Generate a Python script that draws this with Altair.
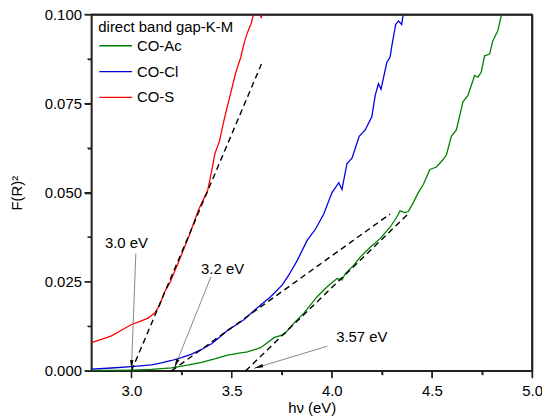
import math
import altair as alt
import pandas as pd

# ---------------- data ----------------
series_names = ["CO-Ac", "CO-Cl", "CO-S"]
series_colors = ["#008000", "#0000e0", "#ff0000"]

s_x = [2.80, 2.85, 2.90, 2.95, 3.00, 3.04, 3.083, 3.116, 3.141, 3.166, 3.191, 3.215,
       3.24, 3.265, 3.29, 3.315, 3.335, 3.356, 3.38, 3.40, 3.417, 3.439, 3.464, 3.48,
       3.497, 3.521, 3.546, 3.563, 3.579, 3.599, 3.613, 3.63, 3.648, 3.66]
s_y = [0.0079, 0.0088, 0.0098, 0.0114, 0.0130, 0.0138, 0.0148, 0.0162, 0.0185, 0.0222,
       0.0246, 0.0278, 0.0312, 0.0347, 0.0382, 0.0421, 0.0452, 0.0477, 0.0505, 0.0560,
       0.0610, 0.0644, 0.0708, 0.0745, 0.0783, 0.0838, 0.0880, 0.0921, 0.0949, 0.0977,
       0.1010, 0.1040, 0.0990, 0.1050]

cl_x = [2.80, 2.90, 3.00, 3.10, 3.15, 3.20, 3.25, 3.30, 3.35, 3.40, 3.44, 3.48, 3.52,
        3.563, 3.60, 3.645, 3.695, 3.753, 3.786, 3.828, 3.877, 3.919, 3.96, 3.985, 4.001,
        4.035, 4.051, 4.076, 4.101, 4.137, 4.167, 4.20, 4.217, 4.233, 4.246, 4.275, 4.291,
        4.30, 4.319, 4.333, 4.349, 4.357, 4.37]
cl_y = [0.0005, 0.0008, 0.0012, 0.0017, 0.0022, 0.0029, 0.0037, 0.0047, 0.0060, 0.0076,
        0.0094, 0.0114, 0.0128, 0.0144, 0.0163, 0.0185, 0.0208, 0.0241, 0.0269, 0.0310,
        0.0366, 0.0398, 0.0440, 0.0477, 0.0500, 0.0528, 0.0509, 0.0582, 0.0597, 0.0658,
        0.0676, 0.0713, 0.0773, 0.0806, 0.0790, 0.0866, 0.0880, 0.0912, 0.0972, 0.0982,
        0.0972, 0.1002, 0.1040]

ac_x = [2.80, 2.90, 3.00, 3.10, 3.20, 3.28, 3.35, 3.42, 3.48, 3.53, 3.579, 3.645, 3.712,
        3.762, 3.811, 3.861, 3.927, 3.977, 4.026, 4.051, 4.068, 4.109, 4.142, 4.192, 4.241,
        4.291, 4.324, 4.341, 4.365, 4.382, 4.407, 4.432, 4.457, 4.49, 4.523, 4.556, 4.573,
        4.597, 4.622, 4.655, 4.68, 4.713, 4.73, 4.746, 4.763, 4.788, 4.804, 4.829, 4.846, 4.86]
ac_y = [0.0001, 0.0001, 0.0002, 0.0004, 0.0008, 0.0016, 0.0024, 0.0034, 0.0044, 0.0049,
        0.0053, 0.0065, 0.0093, 0.0102, 0.0134, 0.0162, 0.0208, 0.0236, 0.0259, 0.0255,
        0.0273, 0.0296, 0.0319, 0.0347, 0.0371, 0.0403, 0.0431, 0.0449, 0.0444, 0.0447,
        0.0472, 0.0500, 0.0523, 0.0565, 0.0572, 0.0593, 0.0607, 0.0658, 0.0676, 0.0755,
        0.0773, 0.0829, 0.0824, 0.0838, 0.0884, 0.0889, 0.0926, 0.0954, 0.0996, 0.1040]

# tangent (extrapolation) lines: start (x, y) -> end (x, y)
tan_x1 = [3.00, 3.20, 3.57]
tan_y1 = [0.0, 0.0, 0.0]
tan_x2 = [3.649, 4.291, 4.39]
tan_y2 = [0.0861, 0.0440, 0.0445]

# annotations
ann_text = ["3.0 eV", "3.2 eV", "3.57 eV"]
ann_tx = [2.975, 3.455, 4.15]
ann_ty = [0.0359, 0.0287, 0.0096]
arr_x1 = [3.022, 3.397, 3.977]
arr_y1 = [0.0329, 0.0264, 0.0069]
arr_x2 = [3.000, 3.215, 3.613]
arr_y2 = [0.0005, 0.0009, 0.0007]

x_major_ticks = [3.0, 3.5, 4.0, 4.5, 5.0]
x_minor_ticks = [3.25, 3.75, 4.25, 4.75]
y_major_ticks = [0.0, 0.025, 0.05, 0.075, 0.1]
y_minor_ticks = [0.0125, 0.0375, 0.0625, 0.0875]

# ---------------- chart ----------------
W, H = 444, 359
XDOM = [2.8, 5.0]
YDOM = [0.0, 0.1]
FONT = "Liberation Sans"
AX = "#222"
MAJ, MIN = 7, 4

rows = []
for name, xs, ys in [("CO-Ac", ac_x, ac_y), ("CO-Cl", cl_x, cl_y), ("CO-S", s_x, s_y)]:
    for i, (a, b) in enumerate(zip(xs, ys)):
        rows.append({"series": name, "x": a, "y": b, "order": i})
curves = pd.DataFrame(rows)

trows = []
for i in range(3):
    trows.append({"g": i, "x": tan_x1[i], "y": tan_y1[i]})
    trows.append({"g": i, "x": tan_x2[i], "y": tan_y2[i]})
tangents = pd.DataFrame(trows)

arrows = pd.DataFrame({"x": arr_x1, "y": arr_y1, "x2": arr_x2, "y2": arr_y2})

# frame (top and right edges of the plot box), built from the axis domains
frame = pd.DataFrame({"x": [XDOM[0], XDOM[1]], "y": [YDOM[1], YDOM[0]],
                      "x2": [XDOM[1], XDOM[1]], "y2": [YDOM[1], YDOM[1]]})

# arrowheads: small narrow triangles, pre-rotated as custom symbol paths
HEAD_LEN = 9.0
heads = []
sx = W / (XDOM[1] - XDOM[0])
sy = H / (YDOM[1] - YDOM[0])
base_tri = [(0.0, -1.0), (0.38, 1.0), (-0.38, 1.0)]
for i in range(3):
    dx = (arr_x2[i] - arr_x1[i]) * sx
    dy = -(arr_y2[i] - arr_y1[i]) * sy  # screen coordinates, y down
    L = math.hypot(dx, dy)
    ux, uy = dx / L, dy / L
    th = math.atan2(dx, -dy)  # clockwise from "up"
    c, s = math.cos(th), math.sin(th)
    pts = [(px * c - py * s, px * s + py * c) for px, py in base_tri]
    path = "M{:.3f},{:.3f}L{:.3f},{:.3f}L{:.3f},{:.3f}Z".format(*[v for p in pts for v in p])
    back = HEAD_LEN / 2
    heads.append({"x": arr_x2[i] - ux * back / sx,
                  "y": arr_y2[i] + uy * back / sy,
                  "shape": path})
heads = pd.DataFrame(heads)

labels = pd.DataFrame({"x": ann_tx, "y": ann_ty, "t": ann_text})

xscale = alt.Scale(domain=XDOM, nice=False, zero=False)
yscale = alt.Scale(domain=YDOM, nice=False, zero=False)

x_axis = alt.Axis(values=x_major_ticks, format=".1f", orient="bottom", tickSize=MAJ,
                  grid=False, labelPadding=6, titlePadding=2, labelFlush=False)
y_axis = alt.Axis(values=y_major_ticks, format=".3f", orient="left", tickSize=MAJ,
                  grid=False, labelPadding=3, titlePadding=20, labelFlush=False)
x_minor = alt.Axis(values=x_minor_ticks, orient="bottom", tickSize=MIN, labels=False,
                   domain=False, grid=False, title=None)
y_minor = alt.Axis(values=y_minor_ticks, orient="left", tickSize=MIN, labels=False,
                   domain=False, grid=False, title=None)
x_top = alt.Axis(orient="top", ticks=False, labels=False, domain=True, grid=False, title=None)
y_right = alt.Axis(orient="right", ticks=False, labels=False, domain=True, grid=False, title=None)


def nox(field="x:Q"):
    return alt.X(field, scale=xscale, axis=None, title=None)


def noy(field="y:Q"):
    return alt.Y(field, scale=yscale, axis=None, title=None)


curve_layer = alt.Chart(curves).mark_line(clip=True, strokeWidth=1.3).encode(
    x=alt.X("x:Q", scale=xscale, axis=x_axis, title="hν (eV)"),
    y=alt.Y("y:Q", scale=yscale, axis=y_axis, title="F(R)²"),
    color=alt.Color("series:N",
                    scale=alt.Scale(domain=series_names, range=series_colors),
                    legend=alt.Legend(title="direct band gap-K-M", orient="none",
                                      legendX=7, legendY=6,
                                      symbolType="stroke", symbolSize=1089,
                                      symbolStrokeWidth=1.3,
                                      titleFontSize=15, titleFontWeight="normal",
                                      titleFont=FONT, labelFont=FONT,
                                      labelFontSize=15, titleColor="#000",
                                      labelColor="#000", rowPadding=0,
                                      titlePadding=-7, labelOffset=4)),
    order="order:Q",
)

tan_layer = alt.Chart(tangents).mark_line(
    clip=True, color="#000", strokeDash=[6, 4], strokeWidth=1.4
).encode(
    x=alt.X("x:Q", scale=xscale, axis=x_minor, title=None),
    y=alt.Y("y:Q", scale=yscale, axis=y_minor, title=None),
    detail="g:N",
)

arrow_layer = alt.Chart(arrows).mark_rule(color="#7a7a7a", strokeWidth=0.9).encode(
    x=alt.X("x:Q", scale=xscale, axis=x_top, title=None),
    y=alt.Y("y:Q", scale=yscale, axis=y_right, title=None),
    x2="x2:Q", y2="y2:Q",
)

frame_layer = alt.Chart(frame).mark_rule(color=AX, strokeWidth=1.5).encode(
    x=nox(), y=noy(), x2="x2:Q", y2="y2:Q",
)

head_layer = alt.Chart(heads).mark_point(
    filled=True, color="#000", size=HEAD_LEN * HEAD_LEN, opacity=1, strokeWidth=0
).encode(
    x=nox(), y=noy(),
    shape=alt.Shape("shape:N", scale=None, legend=None),
)

text_layer = alt.Chart(labels).mark_text(
    font=FONT, fontSize=15, color="#000"
).encode(x=nox(), y=noy(), text="t:N")

# tick marks drawn as rules as well (outward)
xt_major = alt.Chart(pd.DataFrame({"v": x_major_ticks})).mark_rule(color=AX, strokeWidth=1.3).encode(
    x=nox("v:Q"), y=alt.value(H), y2=alt.value(H + MAJ))
xt_minor = alt.Chart(pd.DataFrame({"v": x_minor_ticks})).mark_rule(color=AX, strokeWidth=1.3).encode(
    x=nox("v:Q"), y=alt.value(H), y2=alt.value(H + MIN))
yt_major = alt.Chart(pd.DataFrame({"v": y_major_ticks})).mark_rule(color=AX, strokeWidth=1.3).encode(
    y=noy("v:Q"), x=alt.value(0), x2=alt.value(-MAJ))
yt_minor = alt.Chart(pd.DataFrame({"v": y_minor_ticks})).mark_rule(color=AX, strokeWidth=1.3).encode(
    y=noy("v:Q"), x=alt.value(0), x2=alt.value(-MIN))

chart = alt.layer(
    curve_layer, tan_layer, arrow_layer, frame_layer, head_layer, text_layer,
    xt_major, xt_minor, yt_major, yt_minor,
).resolve_axis(
    x="independent", y="independent"
).properties(
    width=W, height=H,
    autosize=alt.AutoSizeParams(type="none"),
    padding={"left": 84, "top": 5, "right": 10, "bottom": 50},
).configure_view(
    stroke=AX, strokeWidth=1.5
).configure_axis(
    labelFont=FONT, titleFont=FONT, labelFontSize=15, titleFontSize=15,
    labelColor="#000", titleColor="#000", titleFontWeight="normal",
    domainColor=AX, domainWidth=1.5, tickColor=AX, tickWidth=1.3,
)

chart.save("out.html", embed_options={"renderer": "svg", "actions": False})
